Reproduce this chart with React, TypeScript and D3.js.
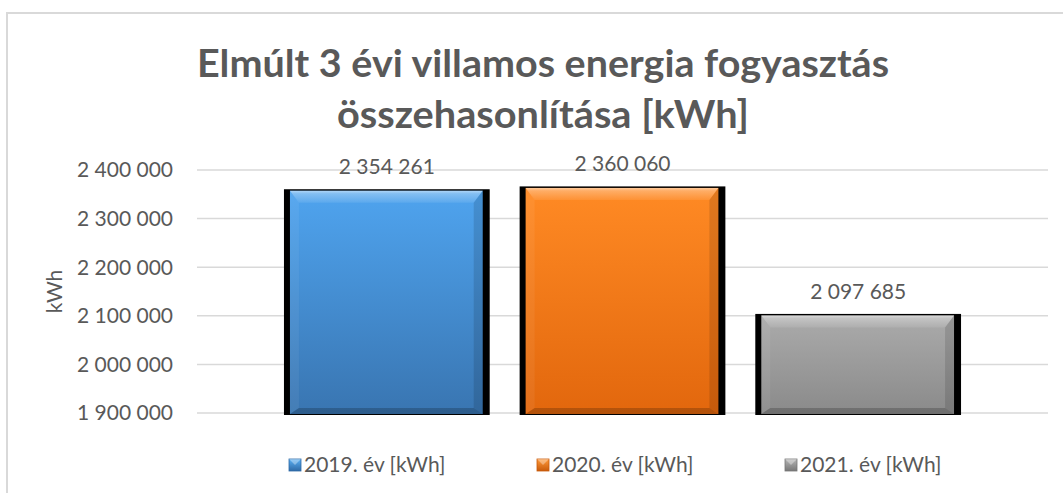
import React from "react";
import * as d3 from "d3";

const categories = ["2019. év [kWh]", "2020. év [kWh]", "2021. év [kWh]"];
const values = [2354261, 2360060, 2097685];
const tickValues = [1900000, 2000000, 2100000, 2200000, 2300000, 2400000];
const titleLines = ["Elmúlt 3 évi villamos energia fogyasztás", "összehasonlítása [kWh]"];
const axisTitle = "kWh";

const palette = [
  { top: "#4fa4ef", bottom: "#3975b1", mark1: "#5ab0f5", mark2: "#2f6aa6" },
  { top: "#ff8a24", bottom: "#e2670d", mark1: "#ff9a3a", mark2: "#c85a0a" },
  { top: "#ababab", bottom: "#8a8a8a", mark1: "#b5b5b5", mark2: "#777777" },
];

const W = 1063;
const H = 493;
const plotLeft = 197;
const plotRight = 1048;
const plotTop = 170;
const plotBottom = 413;
const textColor = "#595959";
const fontFamily = "Lato, 'Open Sans', sans-serif";

const loc = d3.formatLocale({ decimal: ",", thousands: " ", grouping: [3], currency: ["", ""] });
const fmt = loc.format(",d");

export default function App() {
  const x = d3
    .scaleBand<string>()
    .domain(categories)
    .range([plotLeft, plotRight])
    .paddingInner(0.127)
    .paddingOuter(0.369);
  const y = d3.scaleLinear().domain([1900000, 2400000]).range([plotBottom, plotTop]);
  const bw = x.bandwidth();
  const base = y(1900000);

  const legendX = [289, 537, 785];
  const legendY = 472;

  return (
    <svg width={W} height={H} style={{ position: "absolute", left: 0, top: 0 }} fontFamily={fontFamily}>
      <defs>
        {palette.map((p, i) => (
          <linearGradient key={i} id={`g${i}`} x1="0" y1="0" x2="0" y2="1">
            <stop offset="0" stopColor={p.top} />
            <stop offset="1" stopColor={p.bottom} />
          </linearGradient>
        ))}
        {palette.map((p, i) => (
          <linearGradient key={"m" + i} id={`m${i}`} x1="0" y1="0" x2="0" y2="1">
            <stop offset="0" stopColor={p.mark1} />
            <stop offset="1" stopColor={p.mark2} />
          </linearGradient>
        ))}
        <linearGradient id="topBevel" x1="0" y1="0" x2="0" y2="1">
          <stop offset="0" stopColor="#ffffff" stopOpacity={0.55} />
          <stop offset="0.25" stopColor="#ffffff" stopOpacity={0.3} />
          <stop offset="1" stopColor="#ffffff" stopOpacity={0.08} />
        </linearGradient>
      </defs>
      <rect x={0} y={0} width={W} height={H} fill="#ffffff" />
      <rect x={7} y={13} width={1080} height={510} fill="none" stroke="#d9d9d9" strokeWidth={2} />

      {titleLines.map((t, i) => (
        <text
          key={i}
          x={543}
          y={77 + i * 51}
          textAnchor="middle"
          fontSize={38}
          fontWeight="bold"
          fill={textColor}
          textLength={i === 0 ? 692 : 412}
          lengthAdjust="spacingAndGlyphs"
        >
          {t}
        </text>
      ))}

      {tickValues.map((t) => (
        <g key={t}>
          <line x1={plotLeft} x2={plotRight} y1={y(t)} y2={y(t)} stroke="#d9d9d9" strokeWidth={1.5} />
          <text x={173} y={y(t)} dy="0.35em" textAnchor="end" fontSize={21} fill={textColor}>
            {fmt(t)}
          </text>
        </g>
      ))}

      <text
        transform={`translate(62,${(plotTop + plotBottom) / 2}) rotate(-90)`}
        textAnchor="middle"
        fontSize={21}
        fill={textColor}
      >
        {axisTitle}
      </text>

      {categories.map((c, i) => {
        const x0 = x(c)!;
        const yt = y(values[i]);
        const ix0 = x0 + 6;
        const ix1 = x0 + bw - 7;
        const iy0 = yt - 1.5;
        const iy1 = base + 1;
        const bt = 12;
        const bs = 9;
        const bb = 6;
        const pts = (arr: number[][]) => arr.map((p) => p.join(",")).join(" ");
        return (
          <g key={c}>
            <rect x={x0} y={yt - 3} width={bw} height={base + 2 - (yt - 3)} fill="#000000" />
            <rect x={ix0} y={iy0} width={ix1 - ix0} height={iy1 - iy0} fill={`url(#g${i})`} />
            <polygon
              points={pts([[ix0, iy0], [ix1, iy0], [ix1 - bs, iy0 + bt], [ix0 + bs, iy0 + bt]])}
              fill="url(#topBevel)"
            />
            <polygon
              points={pts([[ix0, iy0], [ix0 + bs, iy0 + bt], [ix0 + bs, iy1 - bb], [ix0, iy1]])}
              fill="#ffffff"
              fillOpacity={0.06}
            />
            <polygon
              points={pts([[ix1, iy0], [ix1, iy1], [ix1 - bs, iy1 - bb], [ix1 - bs, iy0 + bt]])}
              fill="#000000"
              fillOpacity={0.12}
            />
            <polygon
              points={pts([[ix0, iy1], [ix0 + bs, iy1 - bb], [ix1 - bs, iy1 - bb], [ix1, iy1]])}
              fill="#000000"
              fillOpacity={0.2}
            />
            <text x={x0 + bw / 2} y={yt - 18} textAnchor="middle" fontSize={21} fill={textColor}>
              {fmt(values[i])}
            </text>
          </g>
        );
      })}

      {categories.map((c, i) => {
        const mx = legendX[i];
        const my = legendY - 13;
        const s = 12;
        return (
          <g key={"l" + c}>
            <rect x={mx} y={my} width={s} height={s} fill={`url(#m${i})`} stroke={palette[i].mark2} strokeWidth={0.8} />
            <polygon
              points={`${mx},${my} ${mx + s},${my} ${mx + s / 2},${my + s / 2}`}
              fill="#ffffff"
              fillOpacity={0.35}
            />
            <text x={mx + 15} y={legendY} fontSize={21} fill={textColor}>
              {c}
            </text>
          </g>
        );
      })}
    </svg>
  );
}
